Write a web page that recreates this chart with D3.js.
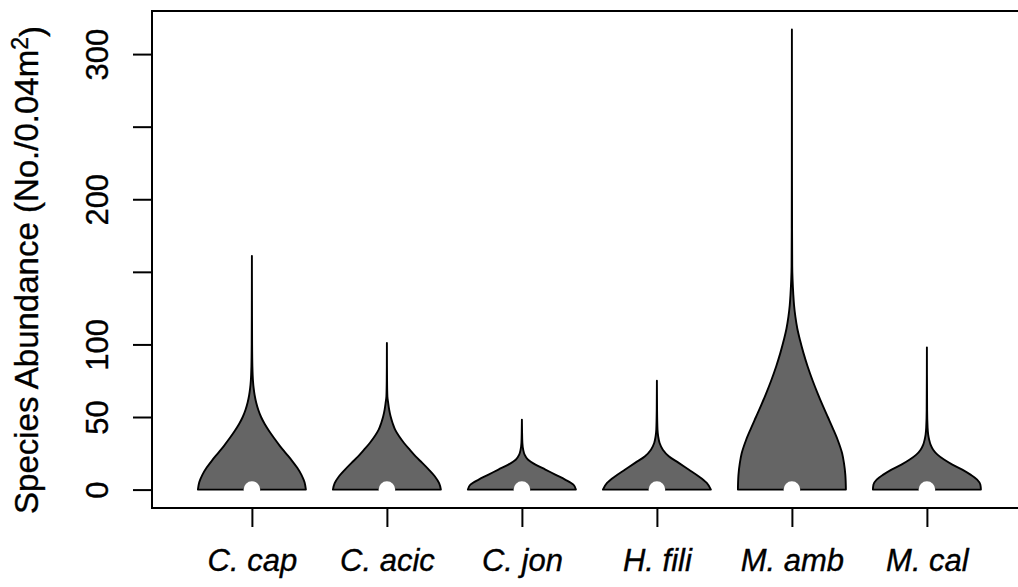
<!DOCTYPE html>
<html>
<head>
<meta charset="utf-8">
<script src="https://cdn.jsdelivr.net/npm/d3@7"></script>
<style>
  body { margin: 0; background: #fff; }
  svg { display: block; }
</style>
</head>
<body>
<script>
// Species on the x axis
const categories = ["C. cap", "C. acic", "C. jon", "H. fili", "M. amb", "M. cal"];
// Median abundance per species
const medians = [0, 0, 0, 0, 0, 0];
// Y axis ticks; R drops labels that would overlap
const yTicks = [0, 50, 100, 150, 200, 250, 300];
const yTickLabels = ["0", "50", "100", "", "200", "", "300"];

// Kernel density outlines: [abundance, half-width relative to the widest point]
const profCCap = [[0, 1.0], [5, 0.975], [10, 0.92], [15, 0.84], [20, 0.74], [25, 0.63], [30, 0.52],
  [35, 0.42], [40, 0.325], [45, 0.24], [50, 0.17], [55, 0.118], [60, 0.079], [65, 0.051],
  [70, 0.032], [75, 0.02], [85, 0.009], [100, 0.004], [130, 0.0015], [161, 0]];
const profCAcic = [[0, 1.0], [4.4, 0.967], [9.2, 0.886], [13.8, 0.776], [18.4, 0.655], [22.9, 0.532],
  [27.5, 0.422], [32.1, 0.317], [36.7, 0.226], [41.3, 0.152], [45.9, 0.105], [50.5, 0.068],
  [55.1, 0.042], [59.7, 0.024], [64.3, 0.009], [75, 0.003], [101, 0]];
const profCJon = [[0, 1.0], [3.4, 0.954], [6.9, 0.80], [10.3, 0.618], [13.8, 0.435], [17.2, 0.251],
  [20.7, 0.11], [24.1, 0.05], [27.5, 0.024], [32.1, 0.009], [40, 0.003], [48.2, 0]];
const profHFili = [[0, 1.0], [4.6, 0.923], [9.2, 0.77], [13.8, 0.587], [18.4, 0.404], [23, 0.22],
  [27.5, 0.11], [32.1, 0.05], [36.7, 0.024], [41.3, 0.011], [55, 0.003], [75, 0]];
const profMAmb = [[0, 1.0], [10, 0.99], [18, 0.965], [25, 0.93], [34, 0.85], [42, 0.76], [50, 0.665],
  [58, 0.57], [66, 0.48], [75, 0.385], [85, 0.29], [94, 0.215], [103, 0.15], [111, 0.1],
  [119, 0.065], [127, 0.04], [135, 0.025], [145, 0.012], [154, 0.006], [180, 0.003],
  [220, 0.0015], [317, 0]];
const profMCal = [[0, 1.0], [3.4, 0.99], [6.9, 0.93], [10.3, 0.807], [13.8, 0.655], [17.2, 0.472],
  [20.7, 0.317], [24.1, 0.196], [27.5, 0.116], [31, 0.068], [34.4, 0.042], [37.9, 0.024],
  [42.5, 0.013], [55, 0.004], [98, 0]];

const profiles = [profCCap, profCAcic, profCJon, profHFili, profMAmb, profMCal];

const W = 1018, H = 587;
const plot = { left: 152, top: 11, bottom: 508 };
const unit = 135; // pixels per category slot
const fontStack = "'Liberation Sans', Arial, Helvetica, sans-serif";

const svg = d3.select("body").append("svg")
  .attr("width", W).attr("height", H)
  .style("font-family", fontStack);

// R-style 4% axis expansion around the data ranges
const n = categories.length;
const xPad = 0.04 * n;
const x = d3.scaleLinear()
  .domain([0.5 - xPad, n + 0.5 + xPad])
  .range([plot.left, plot.left + (n + 2 * xPad) * unit]);

const dataMax = d3.max(profiles, p => d3.max(p, d => d[0]));
const yPad = 0.04 * dataMax;
const y = d3.scaleLinear()
  .domain([-yPad, dataMax + yPad])
  .range([plot.bottom, plot.top]);

const halfWidth = x(1.4) - x(1);

// Violins
profiles.forEach((prof, i) => {
  const cx = x(i + 1);
  const area = d3.area()
    .y(d => y(d[0]))
    .x0(d => cx - halfWidth * d[1])
    .x1(d => cx + halfWidth * d[1])
    .curve(d3.curveMonotoneY);
  svg.append("path")
    .attr("d", area(prof))
    .attr("fill", "#656565")
    .attr("stroke", "#000")
    .attr("stroke-width", 1.9)
    .attr("stroke-linejoin", "round");
});

// Median points
svg.append("g").selectAll("circle")
  .data(medians)
  .join("circle")
  .attr("cx", (d, i) => x(i + 1))
  .attr("cy", d => y(d))
  .attr("r", 8.3)
  .attr("fill", "#fff");

// Plot frame (extends past the right edge of the canvas)
svg.append("rect")
  .attr("x", plot.left)
  .attr("y", plot.top)
  .attr("width", x.range()[1] - plot.left)
  .attr("height", plot.bottom - plot.top)
  .attr("fill", "none")
  .attr("stroke", "#000")
  .attr("stroke-width", 2);

// Y axis
const yAxis = svg.append("g")
  .attr("transform", `translate(${plot.left},0)`)
  .call(d3.axisLeft(y).tickValues(yTicks).tickSize(19)
    .tickFormat((d, i) => yTickLabels[i]));
yAxis.select(".domain").remove();
yAxis.selectAll(".tick line").attr("stroke", "#000").attr("stroke-width", 2);
yAxis.selectAll(".tick text")
  .attr("x", 0).attr("dy", 0)
  .attr("transform", "translate(-44,0) rotate(-90)")
  .attr("text-anchor", "middle")
  .attr("fill", "#000")
  .attr("stroke", "#000").attr("stroke-width", 0.35)
  .style("font-size", "31px")
  .style("font-family", fontStack);

// X axis
const xAxis = svg.append("g")
  .attr("transform", `translate(0,${plot.bottom})`)
  .call(d3.axisBottom(x).tickValues(d3.range(1, n + 1)).tickSize(19)
    .tickFormat(d => categories[d - 1]));
xAxis.select(".domain").remove();
xAxis.selectAll(".tick line").attr("stroke", "#000").attr("stroke-width", 2);
xAxis.selectAll(".tick text")
  .attr("y", 63).attr("dy", 0)
  .attr("fill", "#000")
  .attr("stroke", "#000").attr("stroke-width", 0.35)
  .style("font-size", "31px")
  .style("font-style", "italic")
  .style("font-family", fontStack);

// Y axis title
const title = svg.append("text")
  .attr("transform", `translate(38,${270}) rotate(-90)`)
  .attr("text-anchor", "middle")
  .attr("fill", "#000")
  .attr("stroke", "#000").attr("stroke-width", 0.35)
  .style("font-size", "33px");
title.append("tspan").text("Species Abundance (No./0.04m");
title.append("tspan").text("2").attr("dy", "-0.45em").style("font-size", "23px");
title.append("tspan").text(")").attr("dy", "0.45em");
</script>
</body>
</html>
